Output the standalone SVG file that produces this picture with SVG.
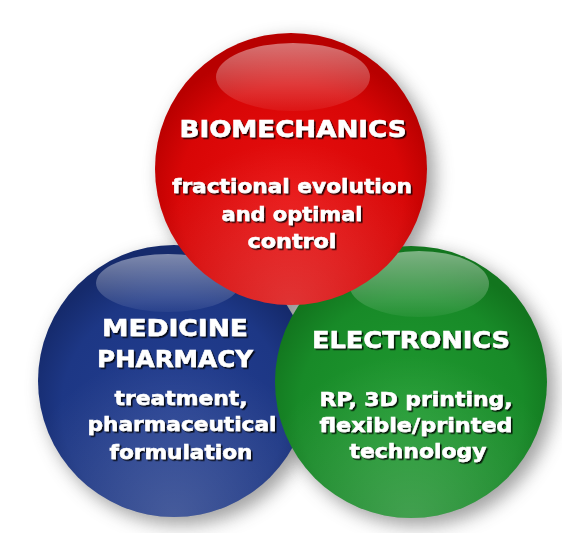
<svg xmlns="http://www.w3.org/2000/svg" width="562" height="533" viewBox="0 0 562 533">
<defs>
<filter id="blur" x="-30%" y="-30%" width="160%" height="160%"><feGaussianBlur stdDeviation="9"/></filter>
<filter id="ts" x="-10%" y="-30%" width="120%" height="160%"><feDropShadow dx="1.6" dy="1.6" stdDeviation="0.6" flood-color="#000" flood-opacity="0.85"/></filter>
<radialGradient id="gRed" cx="50%" cy="60%" r="55%">
<stop offset="0" stop-color="#e81010"/><stop offset="0.75" stop-color="#d80606"/><stop offset="1" stop-color="#b80000"/>
</radialGradient>
<radialGradient id="gBlue" cx="50%" cy="60%" r="55%">
<stop offset="0" stop-color="#233e90"/><stop offset="0.75" stop-color="#1d3785"/><stop offset="1" stop-color="#152a6c"/>
</radialGradient>
<radialGradient id="gGreen" cx="50%" cy="60%" r="55%">
<stop offset="0" stop-color="#1f9a30"/><stop offset="0.75" stop-color="#188a28"/><stop offset="1" stop-color="#12751e"/>
</radialGradient>
<linearGradient id="hl" x1="0" y1="0" x2="0" y2="1">
<stop offset="0" stop-color="#fff" stop-opacity="0.45"/><stop offset="1" stop-color="#fff" stop-opacity="0.05"/>
</linearGradient>
<radialGradient id="bot" cx="50%" cy="100%" r="60%">
<stop offset="0" stop-color="#fff" stop-opacity="0.18"/><stop offset="1" stop-color="#fff" stop-opacity="0"/>
</radialGradient>
</defs>
<style>
.sh{fill:#555;opacity:0.55;filter:url(#blur)}
.t{font-family:"DejaVu Sans","Verdana",sans-serif;font-weight:bold;fill:#fff;stroke:#fff;stroke-width:0.5;text-anchor:middle;filter:url(#ts)}
.h{font-size:22.5px}
.s{font-size:19.5px}
</style>
<rect width="562" height="533" fill="#fff"/>
<g id="shadows">
<circle class="sh" cx="181" cy="388" r="137"/>
<circle class="sh" cx="418" cy="389" r="137"/>
<circle class="sh" cx="298" cy="176" r="137"/>
</g>
<g id="medicine">
<circle cx="174" cy="381" r="136" fill="url(#gBlue)"/>
<circle cx="174" cy="381" r="136" fill="url(#bot)"/>
<ellipse cx="168" cy="283" rx="72" ry="29" fill="url(#hl)"/>
<text class="t h" x="175" y="336" textLength="146" lengthAdjust="spacingAndGlyphs">MEDICINE</text>
<text class="t h" x="175" y="367" textLength="156" lengthAdjust="spacingAndGlyphs">PHARMACY</text>
<text class="t s" x="181" y="405" textLength="133" lengthAdjust="spacingAndGlyphs">treatment,</text>
<text class="t s" x="182" y="431" textLength="189" lengthAdjust="spacingAndGlyphs">pharmaceutical</text>
<text class="t s" x="181" y="459" textLength="143" lengthAdjust="spacingAndGlyphs">formulation</text>
</g>
<g id="electronics">
<circle cx="411" cy="382" r="136" fill="url(#gGreen)"/>
<circle cx="411" cy="382" r="136" fill="url(#bot)"/>
<ellipse cx="419" cy="284" rx="70" ry="33" fill="url(#hl)"/>
<text class="t h" x="411" y="348" textLength="198" lengthAdjust="spacingAndGlyphs">ELECTRONICS</text>
<text class="t s" x="416" y="406" textLength="193" lengthAdjust="spacingAndGlyphs">RP, 3D printing,</text>
<text class="t s" x="416" y="432" textLength="193" lengthAdjust="spacingAndGlyphs">flexible/printed</text>
<text class="t s" x="418" y="458" textLength="137" lengthAdjust="spacingAndGlyphs">technology</text>
</g>
<g id="biomechanics">
<circle cx="291" cy="169" r="136" fill="url(#gRed)"/>
<circle cx="291" cy="169" r="136" fill="url(#bot)"/>
<ellipse cx="293" cy="77" rx="77" ry="34" fill="url(#hl)"/>
<text class="t h" x="293" y="137" textLength="227" lengthAdjust="spacingAndGlyphs">BIOMECHANICS</text>
<text class="t s" x="292" y="193" textLength="240" lengthAdjust="spacingAndGlyphs">fractional evolution</text>
<text class="t s" x="292" y="221" textLength="141" lengthAdjust="spacingAndGlyphs">and optimal</text>
<text class="t s" x="292" y="248" textLength="89" lengthAdjust="spacingAndGlyphs">control</text>
</g>
<g id="connectors"/>
</svg>
